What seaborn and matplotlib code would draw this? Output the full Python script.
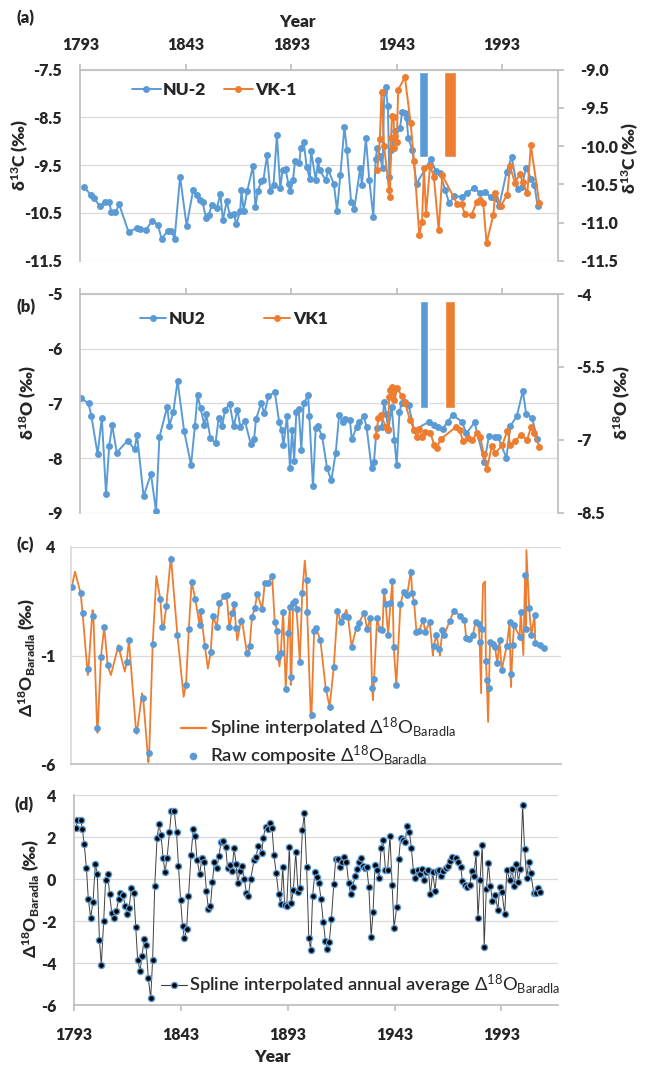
import matplotlib
matplotlib.use('Agg')
import matplotlib.pyplot as plt
from matplotlib.lines import Line2D
import pandas as pd
import seaborn as sns

# ---------------- data ----------------
year_ticks = [1793, 1843, 1893, 1943, 1993]

# (a) d13C NU-2 (left axis)
nu2_c13_years = [
    1794.6, 1798.0, 1799.4, 1802.2, 1804.7, 1806.7, 1807.7, 1809.6, 1811.4, 1815.9,
    1820.0, 1821.5, 1824.1, 1827.2, 1829.9, 1831.5, 1834.6, 1836.2, 1837.7, 1840.3,
    1843.4, 1846.5, 1848.1, 1849.9, 1851.0, 1852.6, 1854.0, 1855.3, 1857.7, 1859.4,
    1860.6, 1862.4, 1863.9, 1865.9, 1866.9, 1868.8, 1869.4, 1870.4, 1872.1, 1874.9,
    1876.0, 1877.2, 1878.8, 1879.8, 1881.5, 1883.1, 1884.6, 1886.2, 1887.8, 1888.9,
    1890.3, 1891.7, 1892.6, 1893.8, 1894.8, 1896.8, 1897.5, 1898.9, 1900.3, 1901.8,
    1902.4, 1904.6, 1905.7, 1906.5, 1909.3, 1910.6, 1913.2, 1914.7, 1916.3, 1918.2,
    1919.4, 1921.4, 1922.9, 1925.7, 1926.5, 1928.4, 1930.0, 1931.9, 1933.0, 1933.8,
    1935.0, 1936.3, 1937.1, 1937.7, 1938.8, 1939.5, 1940.5, 1942.0, 1944.5, 1945.6,
    1946.9, 1947.7, 1948.5, 1950.4, 1952.4, 1959.1, 1961.6, 1963.5, 1966.0, 1967.9,
    1970.3, 1973.8, 1976.1, 1979.6, 1982.5, 1984.8, 1987.5, 1989.6, 1991.6, 1995.1,
    1997.5, 2000.3, 2002.3, 2004.3, 2006.7, 2008.3, 2009.8]
nu2_c13_vals = [
    -9.95, -10.12, -10.19, -10.35, -10.28, -10.28, -10.47, -10.49, -10.32, -10.90,
    -10.81, -10.84, -10.85, -10.66, -10.76, -11.04, -10.87, -10.88, -11.04, -9.74,
    -10.77, -10.02, -10.12, -10.23, -10.28, -10.61, -10.54, -10.33, -10.40, -10.11,
    -10.65, -10.26, -10.54, -10.53, -10.74, -10.46, -10.02, -10.45, -10.05, -9.51,
    -10.38, -10.03, -9.84, -9.81, -9.29, -10.05, -9.91, -8.87, -9.98, -9.60,
    -9.58, -9.90, -10.05, -9.81, -9.42, -9.46, -9.15, -9.01, -9.53, -9.79,
    -9.20, -9.81, -9.40, -9.60, -9.81, -9.61, -9.89, -10.45, -9.70, -8.70,
    -9.18, -10.28, -10.41, -9.56, -9.91, -8.94, -9.81, -10.58, -9.38, -9.13,
    -9.30, -9.55, -7.96, -7.87, -8.27, -9.75, -9.19, -8.78, -8.73, -8.38,
    -8.41, -8.52, -8.94, -9.18, -9.89, -9.38, -9.62, -9.66, -10.02, -10.30,
    -10.15, -10.16, -10.09, -9.98, -10.08, -10.06, -10.16, -10.19, -10.35, -9.64,
    -9.33, -10.00, -9.95, -9.55, -9.78, -9.92, -10.36]

# (a) d13C VK-1 (right axis)
vk1_c13_years = [
    1933.8, 1935.0, 1935.8, 1937.0, 1939.4, 1939.8, 1940.3, 1940.7, 1941.5, 1941.9,
    1942.3, 1943.0, 1943.7, 1946.9, 1949.6, 1951.2, 1953.7, 1955.0, 1955.9, 1956.9,
    1958.8, 1960.6, 1962.9, 1964.6, 1971.7, 1973.8, 1975.3, 1978.5, 1980.9, 1982.5,
    1984.0, 1985.6, 1988.8, 1989.7, 1992.3, 1995.4, 1996.7, 1999.0, 2001.4, 2002.7,
    2004.9, 2006.6, 2010.6]
vk1_c13_vals = [
    -10.31, -9.91, -9.29, -10.00, -10.58, -10.66, -9.90, -9.61, -9.62, -10.03,
    -9.87, -9.95, -9.26, -9.10, -9.70, -10.19, -11.16, -10.99, -10.29, -10.89,
    -10.26, -10.40, -11.10, -10.38, -10.76, -10.76, -10.89, -10.90, -10.73, -10.71,
    -10.74, -11.27, -10.90, -10.61, -10.78, -10.64, -10.26, -10.48, -10.37, -10.47,
    -10.62, -9.99, -10.75]

# (b) d18O NU2 (left axis)
nu2_o18_years = [
    1793.4, 1796.9, 1798.3, 1801.2, 1803.2, 1805.2, 1806.7, 1808.1, 1810.3, 1815.4,
    1818.7, 1819.9, 1823.0, 1826.5, 1828.9, 1830.5, 1834.2, 1835.2, 1837.1, 1839.1,
    1842.2, 1845.5, 1847.3, 1848.6, 1850.0, 1851.8, 1852.7, 1854.7, 1857.1, 1858.6,
    1860.3, 1861.6, 1863.8, 1865.7, 1867.5, 1868.9, 1871.0, 1873.8, 1875.4, 1876.3,
    1878.7, 1880.3, 1882.2, 1885.2, 1887.3, 1888.5, 1889.3, 1891.0, 1892.4, 1893.4,
    1894.4, 1895.4, 1896.5, 1897.8, 1898.9, 1901.0, 1901.6, 1903.3, 1904.6, 1905.6,
    1907.6, 1910.0, 1912.0, 1914.1, 1915.7, 1917.3, 1918.4, 1920.8, 1921.7, 1924.0,
    1925.2, 1927.4, 1928.7, 1931.1, 1932.2, 1933.5, 1935.9, 1937.1, 1938.0, 1939.0,
    1940.6, 1941.9, 1943.0, 1944.3, 1945.4, 1947.0, 1948.6, 1951.3, 1958.1, 1960.5,
    1962.8, 1964.9, 1967.1, 1969.5, 1974.0, 1976.0, 1979.9, 1984.6, 1986.7, 1989.5,
    1991.0, 1995.0, 1996.9, 1999.9, 2002.8, 2004.4, 2007.1, 2009.7]
nu2_o18_vals = [
    -6.91, -7.00, -7.24, -7.93, -7.26, -8.66, -7.78, -7.40, -7.90, -7.68,
    -7.84, -7.58, -8.70, -8.29, -8.97, -7.62, -7.06, -7.41, -7.16, -6.59,
    -7.50, -8.13, -7.42, -6.85, -7.09, -7.40, -7.20, -7.64, -7.73, -7.27,
    -7.41, -7.12, -7.01, -7.42, -7.12, -7.43, -7.32, -7.74, -7.65, -7.29,
    -7.00, -7.18, -6.87, -6.79, -7.35, -7.49, -7.77, -7.23, -8.18, -7.49,
    -8.05, -7.15, -7.10, -7.85, -7.00, -6.85, -7.24, -8.52, -7.45, -7.42,
    -7.60, -8.19, -8.41, -7.90, -7.21, -7.35, -7.29, -7.30, -7.66, -7.43,
    -7.35, -7.24, -7.43, -8.19, -8.07, -7.45, -7.43, -6.97, -7.20, -7.49,
    -7.06, -7.67, -8.13, -7.15, -7.00, -6.97, -7.03, -7.49, -7.34, -7.40,
    -7.43, -7.46, -7.34, -7.21, -7.34, -7.55, -7.35, -8.07, -7.60, -7.62,
    -7.61, -8.00, -7.41, -7.24, -6.77, -7.20, -7.26, -7.65]

# (b) d18O VK1 (right axis)
vk1_o18_years = [
    1933.2, 1934.3, 1935.4, 1937.9, 1939.0, 1939.4, 1939.8, 1940.6, 1941.4, 1941.9,
    1943.3, 1945.4, 1947.0, 1949.3, 1951.3, 1952.5, 1953.8, 1954.9, 1956.5, 1958.9,
    1960.8, 1962.0, 1964.0, 1971.0, 1972.8, 1974.4, 1976.9, 1978.9, 1981.2, 1982.6,
    1984.2, 1985.7, 1988.1, 1989.7, 1993.0, 1995.5, 1996.9, 1999.3, 2001.8, 2004.8,
    2006.7, 2008.3, 2010.6]
vk1_o18_vals = [
    -6.92, -6.56, -6.49, -6.73, -6.78, -6.11, -5.98, -5.92, -6.01, -6.18,
    -5.94, -6.10, -6.25, -6.59, -6.80, -6.94, -6.78, -6.94, -6.83, -6.85,
    -7.11, -7.16, -6.98, -6.74, -6.80, -7.02, -6.97, -7.00, -6.85, -6.94,
    -7.29, -7.61, -7.13, -7.28, -7.11, -6.81, -7.11, -7.02, -6.90, -7.00,
    -6.74, -6.87, -7.14]

# marker bars drawn in (a) and (b): [NU, VK]
bar_a_start = [1953.7, 1965.6]
bar_a_end = [1957.9, 1971.1]
bar_a_low = [-9.32, -9.33]
bar_a_high = [-7.55, -7.55]
bar_b_start = [1954.1, 1966.0]
bar_b_end = [1957.7, 1970.8]
bar_b_low = [-7.09, -7.09]
bar_b_high = [-5.12, -5.12]

# (c) raw composite Delta18O Baradla
raw_years = [
    1793.4, 1797.5, 1798.4, 1801.1, 1803.4, 1805.1, 1806.9, 1808.4, 1810.0, 1815.2,
    1818.8, 1819.8, 1823.1, 1826.4, 1829.2, 1830.8, 1834.3, 1835.2, 1837.1, 1839.1,
    1842.2, 1846.2, 1847.5, 1848.8, 1850.5, 1852.5, 1852.9, 1854.9, 1857.6, 1858.7,
    1860.4, 1861.6, 1863.9, 1865.0, 1866.2, 1867.6, 1868.5, 1869.3, 1871.6, 1874.4,
    1875.6, 1876.7, 1878.0, 1879.1, 1881.4, 1882.6, 1884.2, 1886.0, 1887.2, 1888.3,
    1888.8, 1890.0, 1891.1, 1892.3, 1893.4, 1894.2, 1894.9, 1895.7, 1896.8, 1897.3,
    1898.8, 1899.9, 1901.9, 1902.2, 1904.2, 1905.4, 1906.2, 1908.3, 1910.8, 1912.6,
    1914.5, 1916.2, 1917.7, 1919.1, 1921.1, 1922.7, 1925.0, 1926.0, 1928.5, 1929.9,
    1931.4, 1932.2, 1933.1, 1934.5, 1935.7, 1937.0, 1937.7, 1938.5, 1939.6, 1940.7,
    1941.6, 1942.2, 1943.4, 1945.3, 1946.8, 1948.4, 1950.0, 1950.7, 1951.6, 1952.7,
    1953.9, 1955.8, 1956.8, 1958.8, 1960.7, 1961.9, 1963.2, 1964.7, 1965.5, 1968.1,
    1970.0, 1973.0, 1974.9, 1975.7, 1977.2, 1978.7, 1980.1, 1981.4, 1981.9, 1982.9,
    1984.8, 1985.2, 1986.2, 1986.7, 1988.1, 1989.0, 1990.1, 1991.1, 1992.1, 1994.4,
    1995.8, 1996.2, 1997.2, 1997.8, 2000.4, 2000.9, 2002.9, 2003.4, 2004.8, 2005.8,
    2007.3, 2007.6, 2009.6, 2011.5]
raw_vals = [
    2.16, 1.86, 0.94, -1.62, 0.83, -4.32, -1.05, 0.32, -1.45, -0.67,
    -1.30, -0.29, -4.44, -2.97, -5.46, -0.46, 1.60, 0.32, 1.27, 3.42,
    -0.04, -2.34, 0.23, 2.39, 1.58, 0.39, 1.06, -0.55, -0.85, 0.81,
    0.32, 1.40, 1.75, 1.78, 0.32, 0.97, 1.37, 0.25, 0.60, -0.90,
    -0.56, 0.78, 1.17, 1.83, 1.14, 2.35, 2.35, 2.65, 0.55, 0.14,
    -1.05, -0.90, 1.01, -2.54, 0.05, 1.24, -2.00, 1.40, 1.50, 1.14,
    -1.28, 1.86, 2.47, 1.01, -3.73, 0.14, 0.28, -0.29, -2.54, -3.35,
    -1.51, 1.06, 0.55, 0.81, 0.75, -0.59, 0.28, 0.48, 0.97, 0.22,
    0.71, -2.51, -2.09, 0.71, 0.20, 0.17, 1.98, 1.37, -0.06, 1.40,
    2.44, -0.62, -2.36, 1.37, 1.93, 1.78, 2.82, 1.89, 1.47, 0.09,
    0.14, 0.63, 0.09, 0.55, -0.56, -0.06, -0.72, 0.17, -0.06, 0.58,
    1.06, 0.81, 0.63, -0.21, -0.26, -0.06, 0.55, 0.43, -0.36, 0.20,
    -1.24, -2.13, -2.48, -0.40, -0.47, -0.62, -1.36, -0.29, -1.67, -0.56,
    0.55, -1.85, -0.52, 0.40, -0.13, 1.01, 2.70, 0.22, 1.20, -0.06,
    0.86, -0.44, -0.52, -0.67]

# (c) turning points of the spline curve between the raw points
spline_turn_years = [
    1794.9, 1800.8, 1803.0, 1805.3, 1811.5, 1815.0, 1817.9, 1823.4, 1825.9, 1828.8,
    1832.5, 1835.7, 1839.2, 1845.1, 1856.3, 1869.9, 1871.9, 1874.7, 1889.4, 1894.6,
    1901.1, 1903.9, 1920.3, 1932.6, 1950.1, 1960.3, 1963.5, 1982.6, 1983.5, 1984.4,
    1985.8, 1996.4, 2002.1, 2003.5]
spline_turn_vals = [
    2.85, -1.90, 1.09, -4.55, -1.90, -0.52, -1.74, -4.60, -2.74, -5.90,
    2.65, 0.20, 3.55, -2.90, -1.60, -0.30, 0.72, -1.05, -1.50, -2.35,
    3.36, -3.90, 1.10, -3.05, 2.95, -1.00, -1.00, -2.74, 2.30, 2.40,
    -4.05, -2.45, -0.98, 3.85]

# (d) spline interpolated annual average Delta18O Baradla
annual_years = [
    1793.7, 1794.5, 1796.0, 1796.8, 1797.7, 1798.7, 1799.6, 1800.7, 1801.8, 1802.9,
    1803.8, 1804.8, 1805.7, 1806.8, 1807.7, 1808.7, 1809.6, 1810.6, 1811.7, 1812.7,
    1813.8, 1814.6, 1815.9, 1816.8, 1817.8, 1818.7, 1819.8, 1820.9, 1821.8, 1822.7,
    1823.8, 1824.8, 1825.7, 1826.6, 1827.7, 1828.8, 1829.7, 1830.7, 1831.8, 1832.7,
    1833.6, 1834.6, 1835.5, 1836.5, 1837.6, 1838.5, 1839.8, 1840.9, 1841.8, 1842.8,
    1843.7, 1844.6, 1845.6, 1846.5, 1847.7, 1848.7, 1849.6, 1850.5, 1851.8, 1852.7,
    1853.8, 1854.9, 1855.8, 1856.8, 1857.7, 1858.6, 1859.7, 1860.8, 1861.7, 1862.8,
    1863.9, 1864.8, 1865.8, 1866.9, 1867.8, 1868.8, 1869.5, 1870.6, 1871.7, 1872.6,
    1873.6, 1874.5, 1875.6, 1877.2, 1878.1, 1879.2, 1880.8, 1881.5, 1882.6, 1883.6,
    1884.7, 1885.6, 1886.5, 1887.5, 1888.7, 1889.7, 1890.6, 1891.5, 1892.5, 1893.7,
    1894.6, 1895.6, 1896.7, 1897.8, 1898.7, 1899.8, 1900.7, 1901.8, 1902.8, 1903.7,
    1904.6, 1905.7, 1906.7, 1907.6, 1908.5, 1909.6, 1910.6, 1911.5, 1912.4, 1913.4,
    1914.5, 1915.4, 1916.5, 1917.4, 1918.4, 1919.3, 1920.4, 1921.5, 1922.4, 1923.4,
    1924.5, 1925.4, 1926.3, 1927.1, 1928.1, 1929.1, 1929.9, 1930.9, 1932.0, 1932.9,
    1933.8, 1934.7, 1935.8, 1936.6, 1937.6, 1938.7, 1939.7, 1940.8, 1941.8, 1942.7,
    1944.0, 1944.9, 1945.8, 1946.8, 1947.9, 1948.8, 1949.9, 1950.8, 1951.8, 1952.7,
    1953.8, 1954.9, 1955.8, 1956.8, 1957.9, 1958.8, 1959.7, 1960.8, 1961.9, 1962.8,
    1963.9, 1964.9, 1965.8, 1966.9, 1967.8, 1968.9, 1969.9, 1971.8, 1972.8, 1973.9,
    1974.7, 1975.8, 1976.8, 1978.2, 1979.1, 1980.1, 1981.1, 1982.0, 1983.0, 1984.0,
    1984.9, 1985.9, 1986.9, 1987.8, 1988.8, 1990.1, 1991.3, 1992.2, 1993.2, 1994.5,
    1995.5, 1996.9, 1998.0, 1999.0, 2000.0, 2000.9, 2001.9, 2002.9, 2003.8, 2004.8,
    2005.8, 2006.7, 2008.1, 2009.0, 2010.0, 2011.0]
annual_vals = [
    2.41, 2.81, 2.81, 2.38, 1.65, 0.54, -0.95, -1.84, -1.08, 0.70,
    0.24, -2.90, -4.10, -2.00, -0.05, 0.22, -0.73, -1.63, -1.84, -1.52,
    -0.97, -0.65, -0.76, -1.27, -1.67, -1.37, -0.41, -0.68, -2.27, -3.86,
    -4.37, -3.65, -2.86, -3.14, -4.73, -5.68, -3.86, -0.33, 1.97, 2.60,
    2.10, 1.02, 0.32, 1.02, 2.22, 3.24, 3.24, 2.22, 0.63, -1.00,
    -2.22, -2.83, -2.40, -0.81, 1.14, 2.37, 2.06, 0.90, 0.22, 0.98,
    0.83, -0.57, -1.43, -1.27, -0.13, 0.79, 0.51, 1.11, 1.75, 1.81,
    1.54, 0.51, 0.67, 0.38, 1.49, 0.70, -0.21, 0.38, 0.62, 0.00,
    -0.65, -0.79, 0.00, 0.90, 1.06, 1.59, 1.22, 1.97, 2.49, 2.38,
    2.65, 2.44, 1.14, 0.27, -0.73, -1.21, 0.59, -1.24, -1.27, 1.54,
    -1.16, -0.52, 1.30, -0.63, -0.41, 2.33, 3.13, 0.59, -2.79, -3.38,
    -0.79, 0.32, 0.11, -0.21, -0.95, -2.03, -2.94, -3.33, -2.98, -1.90,
    -0.25, 0.95, 0.95, 0.59, 0.79, 1.06, 0.79, -0.21, -0.73, -0.37,
    0.16, 0.48, 0.79, 1.02, 0.60, 0.54, 0.59, -0.37, -2.75, -1.56,
    0.67, 0.43, 0.06, 1.46, 1.86, 0.43, 0.43, 2.06, -0.29, -2.32,
    -1.32, 0.95, 1.94, 1.86, 1.75, 2.54, 2.25, 1.49, 0.38, 0.06,
    0.43, 0.22, 0.48, -0.05, 0.32, 0.43, -0.73, 0.32, -0.57, 0.38,
    0.43, 0.16, 0.38, 0.51, 0.63, 0.86, 1.06, 0.98, 0.83, 0.59,
    -0.08, -0.29, -0.37, -0.29, 0.40, 0.14, 1.22, -1.87, -0.05, 1.62,
    -3.22, -0.49, 0.78, -0.33, -1.05, -0.76, -1.48, -0.40, -0.60, -1.68,
    0.43, -0.05, 0.46, -0.33, 0.71, -0.13, 0.46, 3.52, 1.41, 0.06,
    0.83, 0.27, -0.65, -0.65, -0.44, -0.60]

# ---------------- style ----------------
sns.set_theme(style='white')
plt.rcParams['font.family'] = ['Lato', 'DejaVu Sans']
plt.rcParams['axes.unicode_minus'] = False
plt.rcParams['mathtext.fontset'] = 'custom'
plt.rcParams['mathtext.rm'] = 'Lato'
plt.rcParams['mathtext.it'] = 'Lato:italic'
plt.rcParams['mathtext.bf'] = 'Lato:black'

BLUE = '#5B9BD5'
ORANGE = '#ED7D31'
GRID = '#D9D9D9'
SPINE = '#BFBFBF'
BOLD = 'heavy'
TS = 11.5
XMIN, XMAX = 1793, 2019.6

W, H = 646, 1065
fig = plt.figure(figsize=(W / 100, H / 100), dpi=100)


def px_axes(l, t, r, b):
    return fig.add_axes([l / W, 1 - b / H, (r - l) / W, (b - t) / H])


def ftext(x, y, s, **kw):
    kw.setdefault('ha', 'center')
    kw.setdefault('va', 'center')
    fig.text(x / W, 1 - y / H, s, **kw)


def base(ax, yt, ylim):
    ax.set_xlim(XMIN, XMAX)
    ax.set_ylim(*ylim)
    ax.set_yticks(yt)
    ax.set_xticks(year_ticks)
    ax.grid(False)
    ax.yaxis.grid(True, color=GRID, lw=0.9)
    ax.set_axisbelow(True)
    for s in ax.spines.values():
        s.set_visible(False)
    ax.set_xlabel('')
    ax.set_ylabel('')
    ax.patch.set_alpha(0)


def line_kw(color, ms):
    return dict(color=color, marker='o', markersize=ms, markeredgewidth=0,
                linewidth=1.4, estimator=None, sort=False)


def set_labels(axis_fn, labels):
    axis_fn(labels, fontweight=BOLD, fontsize=TS)


# ---------------- (a) ----------------
axA = px_axes(80.3, 69.7, 558.3, 260.7)
axA2 = axA.twinx()
for s, e, lo, hi, c in zip(bar_a_start, bar_a_end, bar_a_low, bar_a_high, [BLUE, ORANGE]):
    axA.bar((s + e) / 2, hi - lo, bottom=lo, width=e - s, color=c, zorder=1)
sns.lineplot(x=nu2_c13_years, y=nu2_c13_vals, ax=axA, **line_kw(BLUE, 5))
sns.lineplot(x=vk1_c13_years, y=vk1_c13_vals, ax=axA2, **line_kw(ORANGE, 5))
base(axA, [-7.5, -8.5, -9.5, -10.5, -11.5], (-11.5, -7.5))
set_labels(axA.set_yticklabels, ['-7.5', '-8.5', '-9.5', '-10.5', '-11.5'])
set_labels(axA.set_xticklabels, [str(y) for y in year_ticks])
axA.spines['left'].set_visible(True)
axA.spines['left'].set_color(SPINE)
axA.spines['top'].set_visible(True)
axA.spines['top'].set_color(SPINE)
axA.tick_params(axis='x', top=True, bottom=False, labeltop=True, labelbottom=False,
                length=4, color=SPINE, pad=8)
axA.tick_params(axis='y', left=False, length=0, pad=13)
axA2.set_ylim(-11.5, -9.0)
axA2.set_yticks([-9.0, -9.5, -10.0, -10.5, -11.0, -11.5])
set_labels(axA2.set_yticklabels, ['-9.0', '-9.5', '-10.0', '-10.5', '-11.0', '-11.5'])
axA2.grid(False)
for s in axA2.spines.values():
    s.set_visible(False)
axA2.spines['right'].set_visible(True)
axA2.spines['right'].set_color(SPINE)
axA2.tick_params(axis='y', right=True, length=4, color=SPINE, pad=12)
axA2.set_ylabel('')
axA2.patch.set_alpha(0)

hA = [Line2D([], [], color=BLUE, marker='o', ms=5, mew=0, lw=1.4),
      Line2D([], [], color=ORANGE, marker='o', ms=5, mew=0, lw=1.4)]
axA2.legend(hA, ['NU-2', 'VK-1'], loc='center left', bbox_to_anchor=(132 / W, 1 - 90 / H),
            bbox_transform=fig.transFigure, ncol=2, frameon=False, borderpad=0,
            borderaxespad=0, handlelength=1.65, handletextpad=0.15, columnspacing=1.0,
            prop={'weight': BOLD, 'size': 12.5})

ftext(16.5, 18, '(a)', fontsize=12, fontweight=BOLD, ha='left')
ftext(297, 22, 'Year', fontsize=12.5, fontweight=BOLD)
ftext(20.6, 155, r'δ$^{\mathbf{13}}$C (‰)', fontsize=12.5, fontweight=BOLD, rotation=90)
ftext(630, 158, r'δ$^{\mathbf{13}}$C (‰)', fontsize=12.5, fontweight=BOLD, rotation=90)

# ---------------- (b) ----------------
axB = px_axes(80.3, 294, 558.3, 512.7)
axB2 = axB.twinx()
for s, e, lo, hi, c in zip(bar_b_start, bar_b_end, bar_b_low, bar_b_high, [BLUE, ORANGE]):
    axB.bar((s + e) / 2, hi - lo, bottom=lo, width=e - s, color=c, zorder=1)
sns.lineplot(x=nu2_o18_years, y=nu2_o18_vals, ax=axB, **line_kw(BLUE, 5))
sns.lineplot(x=vk1_o18_years, y=vk1_o18_vals, ax=axB2, **line_kw(ORANGE, 5))
base(axB, [-5, -6, -7, -8, -9], (-9, -5))
set_labels(axB.set_yticklabels, ['-5', '-6', '-7', '-8', '-9'])
axB.spines['left'].set_visible(True)
axB.spines['left'].set_color(SPINE)
axB.spines['top'].set_visible(True)
axB.spines['top'].set_color(SPINE)
axB.tick_params(axis='x', top=True, bottom=False, labeltop=False, labelbottom=False,
                length=4, color=SPINE)
axB.tick_params(axis='y', left=False, length=0, pad=13)
axB2.set_ylim(-8.5, -4)
axB2.set_yticks([-4, -5.5, -7, -8.5])
set_labels(axB2.set_yticklabels, ['-4', '-5.5', '-7', '-8.5'])
axB2.grid(False)
for s in axB2.spines.values():
    s.set_visible(False)
axB2.spines['right'].set_visible(True)
axB2.spines['right'].set_color(SPINE)
axB2.tick_params(axis='y', right=True, length=4, color=SPINE, pad=9)
axB2.set_ylabel('')
axB2.patch.set_alpha(0)
axB2.legend(hA, ['NU2', 'VK1'], loc='center left', bbox_to_anchor=(140 / W, 1 - 319 / H),
            bbox_transform=fig.transFigure, ncol=2, frameon=False, borderpad=0,
            borderaxespad=0, handlelength=1.5, handletextpad=0.15, columnspacing=3.4,
            prop={'weight': BOLD, 'size': 12.5})
ftext(16.5, 307, '(b)', fontsize=12, fontweight=BOLD, ha='left')
ftext(28, 403, r'δ$^{\mathbf{18}}$O (‰)', fontsize=12.5, fontweight=BOLD, rotation=90)
ftext(622, 403, r'δ$^{\mathbf{18}}$O (‰)', fontsize=12.5, fontweight=BOLD, rotation=90)

# ---------------- (c) ----------------
axC = px_axes(70.9, 546.7, 561.2, 764.3)
spline_df = pd.DataFrame({'year': raw_years + spline_turn_years,
                          'val': raw_vals + spline_turn_vals}).sort_values('year')
sns.lineplot(data=spline_df, x='year', y='val', ax=axC, color=ORANGE, linewidth=1.3,
             estimator=None, sort=False)
sns.scatterplot(x=raw_years, y=raw_vals, ax=axC, color=BLUE, s=24, linewidth=0, zorder=3)
base(axC, [4, -1, -6], (-6, 4))
set_labels(axC.set_yticklabels, ['4', '-1', '-6'])
axC.spines['left'].set_visible(True)
axC.spines['left'].set_color(GRID)
axC.spines['bottom'].set_visible(True)
axC.spines['bottom'].set_color(SPINE)
axC.tick_params(axis='x', top=False, bottom=False, labeltop=False, labelbottom=False)
axC.tick_params(axis='y', left=False, length=0, pad=11)
hC = [Line2D([], [], color=ORANGE, lw=1.6),
      Line2D([], [], color=BLUE, marker='o', ms=5.5, mew=0, lw=0)]
axC.legend(hC, [r'Spline interpolated $\Delta^{18}\mathrm{O}_{\mathrm{Baradla}}$',
                r'Raw composite $\Delta^{18}\mathrm{O}_{\mathrm{Baradla}}$'],
           loc='center left', bbox_to_anchor=(181 / W, 1 - 742 / H),
           bbox_transform=fig.transFigure, frameon=False, borderpad=0, borderaxespad=0,
           handlelength=1.35, handletextpad=0.2, labelspacing=0.22,
           prop={'size': 13.3, 'weight': 'semibold'})
ftext(16.5, 545, '(c)', fontsize=12, fontweight=BOLD, ha='left')
ftext(27, 657, r'$\mathbf{\Delta^{18}O_{Baradla}}$ (‰)', fontsize=12.5, fontweight=BOLD, rotation=90)

# ---------------- (d) ----------------
axD = px_axes(74.2, 795, 558.3, 1005)
sns.lineplot(x=annual_years, y=annual_vals, ax=axD, color='#404040', linewidth=0.7,
             marker='o', markersize=4.4, markerfacecolor='black',
             markeredgecolor=BLUE, markeredgewidth=1.0, estimator=None, sort=False)
base(axD, [4, 2, 0, -2, -4, -6], (-6, 4))
set_labels(axD.set_yticklabels, ['4', '2', '0', '-2', '-4', '-6'])
set_labels(axD.set_xticklabels, [str(y) for y in year_ticks])
axD.spines['left'].set_visible(True)
axD.spines['left'].set_color(SPINE)
axD.spines['bottom'].set_visible(True)
axD.spines['bottom'].set_color(SPINE)
axD.tick_params(axis='x', bottom=True, labelbottom=True, length=4, color=SPINE, pad=12)
axD.tick_params(axis='y', left=False, length=0, pad=13)
hD = [Line2D([], [], color='#404040', lw=0.8, marker='o', ms=4.4, mfc='black',
             mec=BLUE, mew=1.0)]
axD.legend(hD, [r'Spline interpolated annual average $\Delta^{18}\mathrm{O}_{\mathrm{Baradla}}$'],
           loc='center left', bbox_to_anchor=(160.7 / W, 1 - 985 / H),
           bbox_transform=fig.transFigure, frameon=False, borderpad=0, borderaxespad=0,
           handlelength=1.45, handletextpad=0.12, prop={'size': 13.2, 'weight': 'semibold'})
ftext(14.5, 805, '(d)', fontsize=12, fontweight=BOLD, ha='left')
ftext(31, 898, r'$\mathbf{\Delta^{18}O_{Baradla}}$ (‰)', fontsize=12.5, fontweight=BOLD, rotation=90)
ftext(272, 1057, 'Year', fontsize=12.5, fontweight=BOLD)

fig.savefig('out.png', dpi=100)
